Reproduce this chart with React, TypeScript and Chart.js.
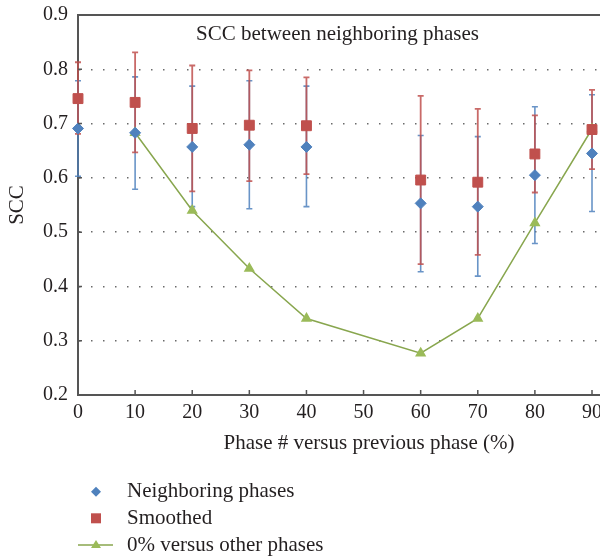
import React, { useEffect, useRef } from 'react';
import { Chart, registerables } from 'chart.js';

Chart.register(...registerables);

// ---- data ----
const phases = [0, 10, 20, 30, 40, 60, 70, 80, 90];
const neighboring = [0.691, 0.683, 0.657, 0.661, 0.657, 0.553, 0.547, 0.605, 0.645];
const neighboringHigh = [0.779, 0.786, 0.769, 0.779, 0.769, 0.678, 0.676, 0.731, 0.753];
const neighboringLow = [0.603, 0.579, 0.547, 0.543, 0.547, 0.427, 0.419, 0.479, 0.538];
const smoothed = [0.746, 0.739, 0.691, 0.697, 0.696, 0.596, 0.592, 0.644, 0.689];
const smoothedHigh = [0.813, 0.831, 0.807, 0.798, 0.785, 0.751, 0.727, 0.715, 0.762];
const smoothedLow = [0.681, 0.647, 0.575, 0.594, 0.607, 0.441, 0.458, 0.573, 0.616];
const otherPhases = [10, 20, 30, 40, 60, 70, 80, 90];
const zeroVsOther = [0.683, 0.54, 0.433, 0.341, 0.277, 0.341, 0.517, 0.69];
const xTicks = [0, 10, 20, 30, 40, 50, 60, 70, 80, 90];
const yTicks = [0.2, 0.3, 0.4, 0.5, 0.6, 0.7, 0.8, 0.9];
const seriesLabels = ['Neighboring phases', 'Smoothed', '0% versus other phases'];
const chartTitle = 'SCC between neighboring phases';
const xTitle = 'Phase # versus previous phase (%)';
const yTitle = 'SCC';

const FONT = "'Liberation Serif', 'Times New Roman', serif";
const BLUE = '#4F81BD';
const RED = '#C0504D';
const GREEN = '#9BBB59';
const GREEN_LINE = '#88A64E';
const AXIS = '#555555';
const TEXT = '#231f20';

const decorPlugin = {
  id: 'decor',
  beforeDatasetsDraw(chart: any) {
    const { ctx, scales } = chart;
    const x = scales.x, y = scales.y;
    const drawBars = (lo: number[], hi: number[], color: string, width: number) => {
      ctx.save();
      ctx.strokeStyle = color;
      ctx.lineWidth = width;
      phases.forEach((p, i) => {
        const px = x.getPixelForValue(p);
        const yl = y.getPixelForValue(lo[i]);
        const yh = y.getPixelForValue(hi[i]);
        ctx.beginPath();
        ctx.moveTo(px, yl);
        ctx.lineTo(px, yh);
        ctx.moveTo(px - 3, yl);
        ctx.lineTo(px + 3, yl);
        ctx.moveTo(px - 3, yh);
        ctx.lineTo(px + 3, yh);
        ctx.stroke();
      });
      ctx.restore();
    };
    drawBars(neighboringLow, neighboringHigh, 'rgba(79,129,189,0.85)', 1.6);
    drawBars(smoothedLow, smoothedHigh, 'rgba(192,80,77,0.85)', 1.8);
  },
  afterDraw(chart: any) {
    const { ctx, chartArea, scales } = chart;
    const x = scales.x, y = scales.y;
    ctx.save();
    // top frame line
    ctx.strokeStyle = AXIS;
    ctx.lineWidth = 2;
    const ty = y.getPixelForValue(0.9);
    ctx.beginPath();
    ctx.moveTo(chartArea.left - 1, ty);
    ctx.lineTo(600, ty);
    ctx.stroke();
    // inward ticks
    ctx.lineWidth = 1.5;
    ctx.beginPath();
    xTicks.forEach((v) => {
      if (v === 0) return;
      const px = x.getPixelForValue(v);
      ctx.moveTo(px, chartArea.bottom);
      ctx.lineTo(px, chartArea.bottom - 5);
    });
    yTicks.forEach((v) => {
      if (v === 0.2 || v === 0.9) return;
      const py = y.getPixelForValue(v);
      ctx.moveTo(chartArea.left, py);
      ctx.lineTo(chartArea.left + 4, py);
    });
    ctx.stroke();

    // titles
    ctx.fillStyle = TEXT;
    ctx.font = `21px ${FONT}`;
    ctx.textBaseline = 'alphabetic';
    ctx.textAlign = 'center';
    ctx.fillText(chartTitle, 337.5, 40);
    ctx.fillText(xTitle, 369, 449);

    // legend
    ctx.textAlign = 'left';
    const lx = 96;
    const tx = 127;
    // diamond
    ctx.fillStyle = BLUE;
    ctx.beginPath();
    ctx.moveTo(lx, 491.7 - 5);
    ctx.lineTo(lx + 5, 491.7);
    ctx.lineTo(lx, 491.7 + 5);
    ctx.lineTo(lx - 5, 491.7);
    ctx.closePath();
    ctx.fill();
    // square
    ctx.fillStyle = RED;
    ctx.fillRect(lx - 5, 518.3 - 5, 10, 10);
    // line + triangle
    ctx.strokeStyle = GREEN_LINE;
    ctx.lineWidth = 1.5;
    ctx.beginPath();
    ctx.moveTo(78, 545);
    ctx.lineTo(113, 545);
    ctx.stroke();
    ctx.fillStyle = GREEN;
    ctx.beginPath();
    ctx.moveTo(lx, 545 - 5);
    ctx.lineTo(lx + 5, 545 + 3);
    ctx.lineTo(lx - 5, 545 + 3);
    ctx.closePath();
    ctx.fill();

    ctx.fillStyle = TEXT;
    ctx.fillText(seriesLabels[0], tx, 497.3);
    ctx.fillText(seriesLabels[1], tx, 524);
    ctx.fillText(seriesLabels[2], tx, 550.7);
    ctx.restore();
  },
};

export default function App() {
  const ref = useRef<HTMLCanvasElement | null>(null);

  useEffect(() => {
    document.body.style.margin = '0';
    const canvas = ref.current;
    if (!canvas) return;
    const chart = new Chart(canvas, {
      type: 'scatter',
      data: {
        datasets: [
          {
            label: seriesLabels[0],
            data: phases.map((p, i) => ({ x: p, y: neighboring[i] })),
            pointStyle: 'rectRot',
            pointRadius: 5.5,
            backgroundColor: BLUE,
            borderColor: BLUE,
            pointBorderWidth: 1,
            showLine: false,
            clip: false,
          } as any,
          {
            label: seriesLabels[1],
            data: phases.map((p, i) => ({ x: p, y: smoothed[i] })),
            pointStyle: 'rect',
            pointRadius: 7,
            backgroundColor: RED,
            borderColor: RED,
            pointBorderWidth: 1,
            showLine: false,
            clip: false,
          } as any,
          {
            label: seriesLabels[2],
            data: otherPhases.map((p, i) => ({ x: p, y: zeroVsOther[i] })),
            pointStyle: 'triangle',
            pointRadius: 5,
            pointBackgroundColor: GREEN,
            pointBorderColor: GREEN,
            borderColor: GREEN_LINE,
            borderWidth: 1.5,
            showLine: true,
            tension: 0,
            clip: false,
          } as any,
        ],
      },
      plugins: [decorPlugin],
      options: {
        responsive: false,
        animation: false,
        events: [],
        layout: { autoPadding: false, padding: { top: 15, right: 0, left: 0, bottom: 0 } },
        plugins: {
          legend: { display: false },
          tooltip: { enabled: false },
          title: { display: false },
        },
        scales: {
          x: {
            type: 'linear',
            min: 0,
            max: 91.4,
            afterBuildTicks: (scale: any) => {
              scale.ticks = xTicks.map((v) => ({ value: v }));
            },
            afterFit: (scale: any) => {
              scale.height = 162;
              scale.paddingRight = 0;
              scale.paddingLeft = 0;
            },
            ticks: {
              font: { family: FONT, size: 20 },
              color: TEXT,
              padding: 0,
              maxRotation: 0,
              autoSkip: false,
              callback: (v: any) => String(v),
            },
            grid: {
              drawOnChartArea: false,
              drawTicks: true,
              tickLength: 5.5,
              tickColor: 'rgba(0,0,0,0)',
            },
            border: { display: true, color: AXIS, width: 2 },
          },
          y: {
            type: 'linear',
            min: 0.2,
            max: 0.9,
            afterBuildTicks: (scale: any) => {
              scale.ticks = yTicks.map((v) => ({ value: v }));
            },
            afterFit: (scale: any) => {
              scale.width = 78;
            },
            ticks: {
              font: { family: FONT, size: 20 },
              color: TEXT,
              padding: 2,
              callback: (v: any) => Number(v).toFixed(1),
            },
            grid: {
              drawTicks: true,
              tickLength: 8,
              tickColor: 'rgba(0,0,0,0)',
              lineWidth: 1.5,
              color: (c: any) => {
                const v = c.tick ? c.tick.value : 0;
                return v > 0.25 && v < 0.85 ? '#6a6a6a' : 'rgba(0,0,0,0)';
              },
            },
            border: { display: true, color: AXIS, width: 2, dash: [1.5, 10.5] },
            title: {
              display: true,
              text: yTitle,
              color: TEXT,
              font: { family: FONT, size: 21 },
              padding: { top: 5, bottom: 0 },
            },
          },
        },
      } as any,
    });
    return () => chart.destroy();
  }, []);

  return (
    <div style={{ width: 600, height: 557 }}>
      <canvas ref={ref} width={600} height={557} style={{ display: 'block' }} />
    </div>
  );
}
